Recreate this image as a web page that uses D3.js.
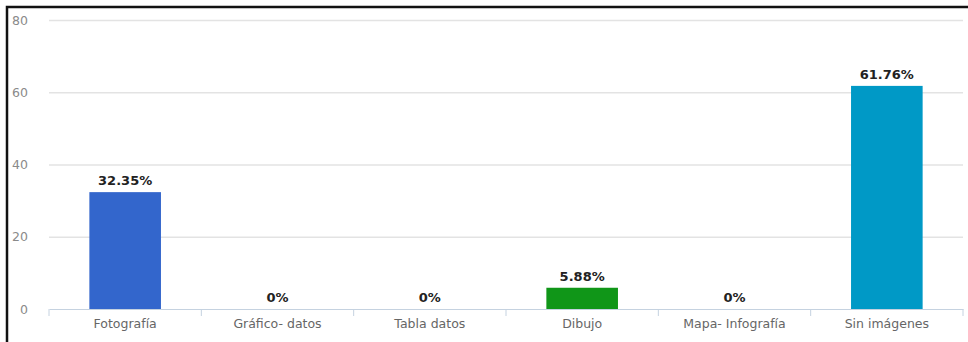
<!DOCTYPE html>
<html>
<head>
<meta charset="utf-8">
<script src="https://d3js.org/d3.v7.min.js"></script>
<style>
  body { margin: 0; background: #fff; }
  svg { display: block; }
  svg text { font-family: 'DejaVu Sans', Verdana, sans-serif; }
  .grid .domain { display: none; }
  .grid .tick line { stroke: #e3e3e3; stroke-width: 1.5px; }
  .yaxis .domain, .yaxis .tick line { display: none; }
  .yaxis text { fill: #8a8a8a; font-size: 12.5px; }
  .xaxis .domain { stroke: #c5d2e0; }
  .xaxis .tick line { stroke: #c5d2e0; }
  .xaxis text { fill: #666; font-size: 12.5px; }
</style>
</head>
<body>
<div id="chart"></div>
<script>
  var categories = ["Fotografía", "Gráfico- datos", "Tabla datos", "Dibujo", "Mapa- Infografía", "Sin imágenes"];
  var values = [32.35, 0, 0, 5.88, 0, 61.76];
  var colors = ["#3366cc", "#dc3912", "#ff9900", "#109618", "#990099", "#0099c6"];
  var yTicks = [0, 20, 40, 60, 80];

  var W = 968, H = 342;
  var margin = {top: 20, right: 5, bottom: 33, left: 49},
    width = W - margin.left - margin.right,
    height = H - margin.top - margin.bottom;

  var root = d3.select("#chart").append("svg")
    .attr("width", W)
    .attr("height", H);

  // outer frame
  root.append("rect")
    .attr("x", 7).attr("y", 7)
    .attr("width", W + 20).attr("height", H + 20)
    .attr("fill", "none")
    .attr("stroke", "#111")
    .attr("stroke-width", 2.5);

  var svg = root.append("g")
    .attr("transform", "translate(" + margin.left + "," + margin.top + ")");

  var x = d3.scaleBand()
    .domain(categories)
    .range([0, width])
    .paddingInner(0.53)
    .paddingOuter(0.265);

  var y = d3.scaleLinear()
    .domain([0, 80])
    .range([height, 0]);

  // gridlines
  svg.append("g")
    .attr("class", "grid")
    .call(d3.axisLeft(y).tickValues(yTicks.slice(1)).tickSize(-width).tickFormat(""));

  // y labels
  svg.append("g")
    .attr("class", "yaxis")
    .attr("transform", "translate(-18,0)")
    .call(d3.axisLeft(y).tickValues(yTicks).tickSize(0));

  // x axis with boundary ticks
  var step = width / categories.length;
  var xa = svg.append("g")
    .attr("class", "xaxis")
    .attr("transform", "translate(0," + height + ")")
    .call(d3.axisBottom(x).tickSize(0).tickSizeOuter(0).tickPadding(10));

  xa.selectAll(".sep")
    .data(d3.range(categories.length + 1))
    .enter().append("line")
    .attr("stroke", "#c5d2e0")
    .attr("x1", function (d) { return d * step; })
    .attr("x2", function (d) { return d * step; })
    .attr("y1", 0).attr("y2", 7);

  // bars
  svg.selectAll(".bar")
    .data(values)
    .enter().append("rect")
    .attr("x", function (d, i) { return x(categories[i]); })
    .attr("y", function (d) { return y(d); })
    .attr("width", x.bandwidth())
    .attr("height", function (d) { return height - y(d); })
    .attr("fill", function (d, i) { return colors[i]; });

  // value labels
  svg.selectAll(".val")
    .data(values)
    .enter().append("text")
    .attr("x", function (d, i) { return x(categories[i]) + x.bandwidth() / 2; })
    .attr("y", function (d) { return y(d) - 7; })
    .attr("text-anchor", "middle")
    .style("font-size", "13px")
    .style("font-weight", "bold")
    .style("fill", "#222")
    .text(function (d) { return d + "%"; });
</script>
</body>
</html>
